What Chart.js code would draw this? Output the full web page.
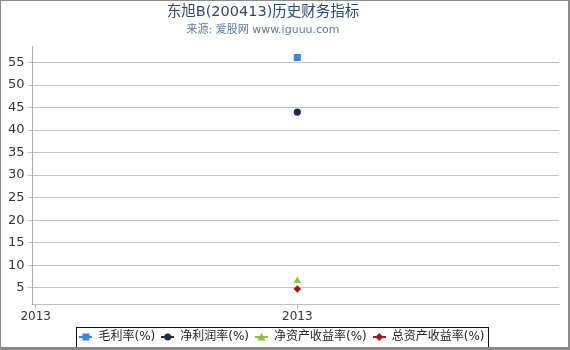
<!DOCTYPE html>
<html><head><meta charset="utf-8">
<script src="https://cdn.jsdelivr.net/npm/chart.js@4/dist/chart.umd.min.js"></script>
<style>
html,body{margin:0;padding:0;background:#fff;}
#wrap{position:relative;width:570px;height:350px;box-sizing:border-box;border-left:1px solid #8a8a8a;border-top:1px solid #8a8a8a;border-right:2px solid #8a8a8a;border-bottom:3px solid #8a8a8a;}
</style></head>
<body>
<div id="wrap"><canvas id="c"></canvas></div>
<script>
const years = [2013];
const seriesNames = ['毛利率(%)','净利润率(%)','净资产收益率(%)','总资产收益率(%)'];
const grossMargin = [56.1];
const netMargin = [44.0];
const roe = [6.5];
const roa = [4.7];
const yTicks = [5,10,15,20,25,30,35,40,45,50,55];
const titleText = '东旭B(200413)历史财务指标';
const subtitleText = '来源: 爱股网 www.iguuu.com';
const colors = ['#3a86db','#1b2d4a','#8cc43c','#a01818'];
const styles = ['rect','circle','triangle','rectRot'];
const sizes = [5,3.6,4.4,3.8];

const FONT = 'DejaVu Sans, "Noto Sans CJK SC", sans-serif';
const TITLE_X = 262;

function legendIcon(i){
  const c = document.createElement('canvas');
  c.width = 13; c.height = 10;
  const ctx = c.getContext('2d');
  ctx.strokeStyle = colors[i]; ctx.lineWidth = 2;
  ctx.beginPath(); ctx.moveTo(0,5); ctx.lineTo(13,5); ctx.stroke();
  ctx.fillStyle = colors[i];
  ctx.beginPath();
  if (styles[i]==='rect'){ ctx.rect(3,1.5,7,7); }
  else if (styles[i]==='circle'){ ctx.arc(6.5,5,3.5,0,Math.PI*2); }
  else if (styles[i]==='triangle'){ ctx.moveTo(6.5,1); ctx.lineTo(10.5,8.5); ctx.lineTo(2.5,8.5); ctx.closePath(); }
  else { ctx.moveTo(6.5,1); ctx.lineTo(10.5,5); ctx.lineTo(6.5,9); ctx.lineTo(2.5,5); ctx.closePath(); }
  ctx.fill();
  return c;
}
const icons = [0,1,2,3].map(legendIcon);

const allData = [grossMargin, netMargin, roe, roa];
const datasets = allData.map((arr,i)=>({
  label: seriesNames[i],
  data: arr.map((v,j)=>({x: years[j], y: v})),
  showLine: false,
  pointStyle: styles[i],
  pointRadius: sizes[i],
  pointHoverRadius: sizes[i],
  backgroundColor: colors[i],
  borderColor: colors[i],
  borderWidth: 0
}));

const legendBox = {
  id:'legendBox',
  afterDraw(chart){
    const ctx = chart.ctx;
    const l = chart.legend;
    if (l && l.legendHitBoxes && l.legendHitBoxes.length){
      const items = l.legendHitBoxes;
      const x0 = Math.min(...items.map(b=>b.left)) - 3;
      const x1 = Math.max(...items.map(b=>b.left+b.width)) + 4;
      const y0 = items[0].top - 4, y1 = items[0].top + items[0].height + 4;
      ctx.save();
      ctx.strokeStyle = '#111'; ctx.lineWidth = 1;
      ctx.strokeRect(Math.round(x0)+0.5, Math.round(y0)+0.5, Math.round(x1-x0), Math.round(y1-y0));
      ctx.restore();
    }
    // titles drawn at their offset centre
    const tb = chart.titleBlock;
    const sb = chart.boxes.find(b => b !== tb && b.options && b.options.text === subtitleText);
    ctx.save();
    ctx.textAlign = 'center'; ctx.textBaseline = 'middle';
    const tTop = tb ? tb.top : 0;
    const sTop = sb ? sb.top : 21;
    ctx.fillStyle = '#2b4a6d'; ctx.font = '14.5px ' + FONT;
    ctx.fillText(titleText, TITLE_X, tTop + 3 + 14.5*0.6);
    ctx.fillStyle = '#5b7ca0'; ctx.font = '11px ' + FONT;
    ctx.fillText(subtitleText, TITLE_X, sTop + 11*0.6);
    ctx.restore();
  }
};

new Chart(document.getElementById('c'), {
  type: 'scatter',
  data: { datasets },
  plugins: [legendBox],
  options: {
    responsive: true, maintainAspectRatio: false, animation: false,
    layout: { padding: { left: 4, right: 9, top: 0, bottom: -6 } },
    plugins: {
      tooltip: { enabled: false },
      title: { display: true, text: titleText, color: 'rgba(0,0,0,0)',
        font: { family: FONT, size: 14.5, weight: 'normal' }, padding: { top: 3, bottom: 2 } },
      subtitle: { display: true, text: subtitleText, color: 'rgba(0,0,0,0)',
        font: { family: FONT, size: 11, weight: 'normal' }, padding: { top: 0, bottom: 10 } },
      legend: { position: 'bottom',
        labels: { font: { family: FONT, size: 12 }, color: '#222', usePointStyle: true, pointStyleWidth: 13,
          boxHeight: 10, padding: 6,
          generateLabels(chart){
            return chart.data.datasets.map((d,i)=>({ text: d.label, pointStyle: icons[i], fillStyle: colors[i],
              strokeStyle: colors[i], lineWidth: 0, datasetIndex: i, hidden: false, fontColor: '#222' }));
          } } }
    },
    scales: {
      x: { type: 'linear', min: 2012.494, max: 2013.5,
        afterBuildTicks(s){ s.ticks = [{value: 2012.5},{value: 2013}]; },
        ticks: { callback: v => String(Math.round(v)), color: '#333', font: { family: FONT, size: 12 }, maxRotation: 0, padding: 1 },
        grid: { drawOnChartArea: false, drawTicks: true, tickLength: 4, color: '#b8b8b8' },
        border: { color: '#c0c0c0' } },
      y: { min: 1.24, max: 58.54,
        afterBuildTicks(s){ s.ticks = yTicks.map(v=>({value:v})); },
        ticks: { color: '#333', font: { family: FONT, size: 13 }, padding: 3 },
        grid: { color: '#c4c4c4', tickLength: 5 },
        border: { color: '#b0b0b0' } }
    }
  }
});
</script>
</body></html>
